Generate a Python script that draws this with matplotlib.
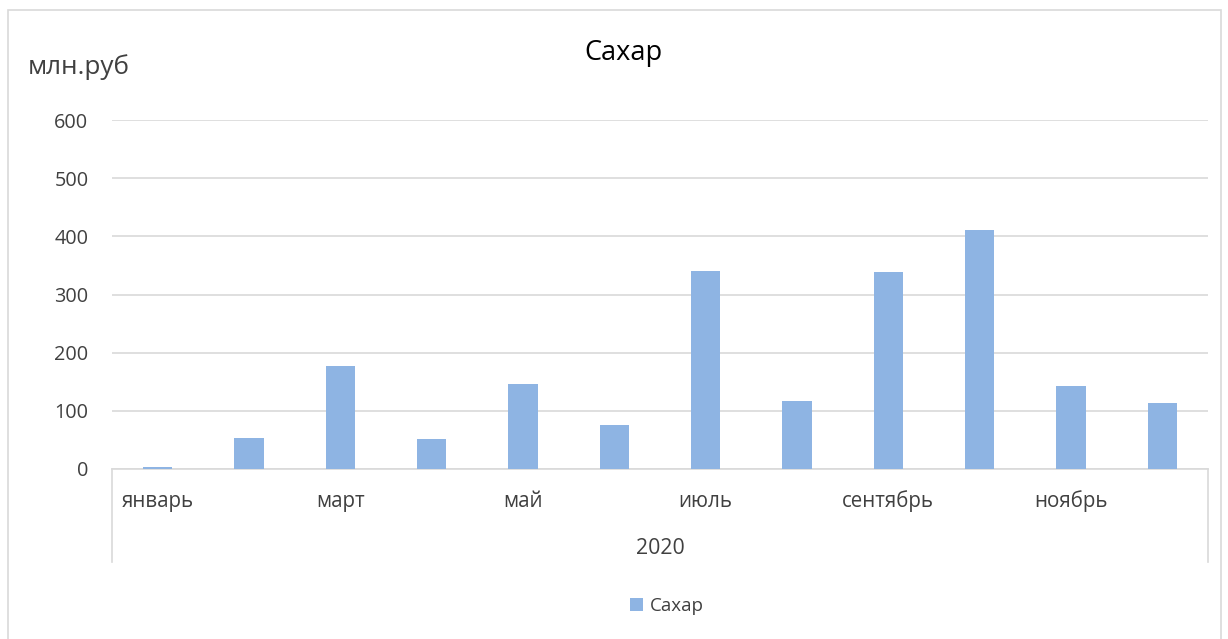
import numpy as np
import matplotlib.pyplot as plt
from matplotlib.lines import Line2D
from matplotlib.patches import Rectangle

plt.rcParams['font.family'] = ['Open Sans', 'DejaVu Sans']

# Данные
months = ['январь', 'февраль', 'март', 'апрель', 'май', 'июнь',
          'июль', 'август', 'сентябрь', 'октябрь', 'ноябрь', 'декабрь']
sugar = [4, 53, 177, 52, 146, 75, 340, 117, 339, 411, 143, 114]
year = '2020'
series_name = 'Сахар'
yticks = [0, 100, 200, 300, 400, 500, 600]

W, H = 1228, 639
fig = plt.figure(figsize=(W / 100, H / 100), dpi=100)

def fx(px):
    return px / W

def fy(py):
    return 1 - py / H

# Рамка диаграммы
fig.patches.append(Rectangle((fx(8), fy(700)), fx(1213), fy(10) - fy(700),
                             transform=fig.transFigure, fill=False,
                             edgecolor='#d9d9d9', lw=1.2))

ax = fig.add_axes([fx(112), fy(469), fx(1208) - fx(112), fy(120) - fy(469)])
x = np.arange(len(months))
ax.bar(x, sugar, width=0.32, color='#8eb4e3', label=series_name, zorder=3)
ax.set_xlim(-0.5, len(months) - 0.5)
ax.set_ylim(0, 600)
ax.set_yticks(yticks)
ax.grid(axis='y', color='#d9d9d9', lw=1.2, zorder=0)
for s in ['top', 'left', 'right']:
    ax.spines[s].set_visible(False)
ax.spines['bottom'].set_color('#d9d9d9')
ax.spines['bottom'].set_linewidth(1.2)
ax.spines['bottom'].set_zorder(2)
ax.tick_params(axis='y', length=0, pad=17, labelsize=14.3, labelcolor='#404040')
ax.set_xticks(x[::2], months[::2])
ax.tick_params(axis='x', length=0, pad=15.5, labelsize=14.8, labelcolor='#404040')

# Второй уровень категорий
for px in (112, 1208):
    fig.add_artist(Line2D([fx(px), fx(px)], [fy(469), fy(562)],
                          color='#d9d9d9', lw=1.2, transform=fig.transFigure))
fig.text(fx(660), fy(548), year, ha='center', va='center', fontsize=15.3,
         color='#404040')

fig.text(fx(28), fy(67), 'млн.руб', ha='left', va='center', fontsize=18.8,
         color='#404040')
fig.text(fx(623), fy(53), series_name, ha='center', va='center', fontsize=19.5,
         color='black')

fig.legend(loc='center', bbox_to_anchor=(fx(667), fy(606)), frameon=False,
           fontsize=13.5, handlelength=0.7, handleheight=0.7, handletextpad=0.4,
           labelcolor='#404040')

fig.savefig('out.png', dpi=100)
